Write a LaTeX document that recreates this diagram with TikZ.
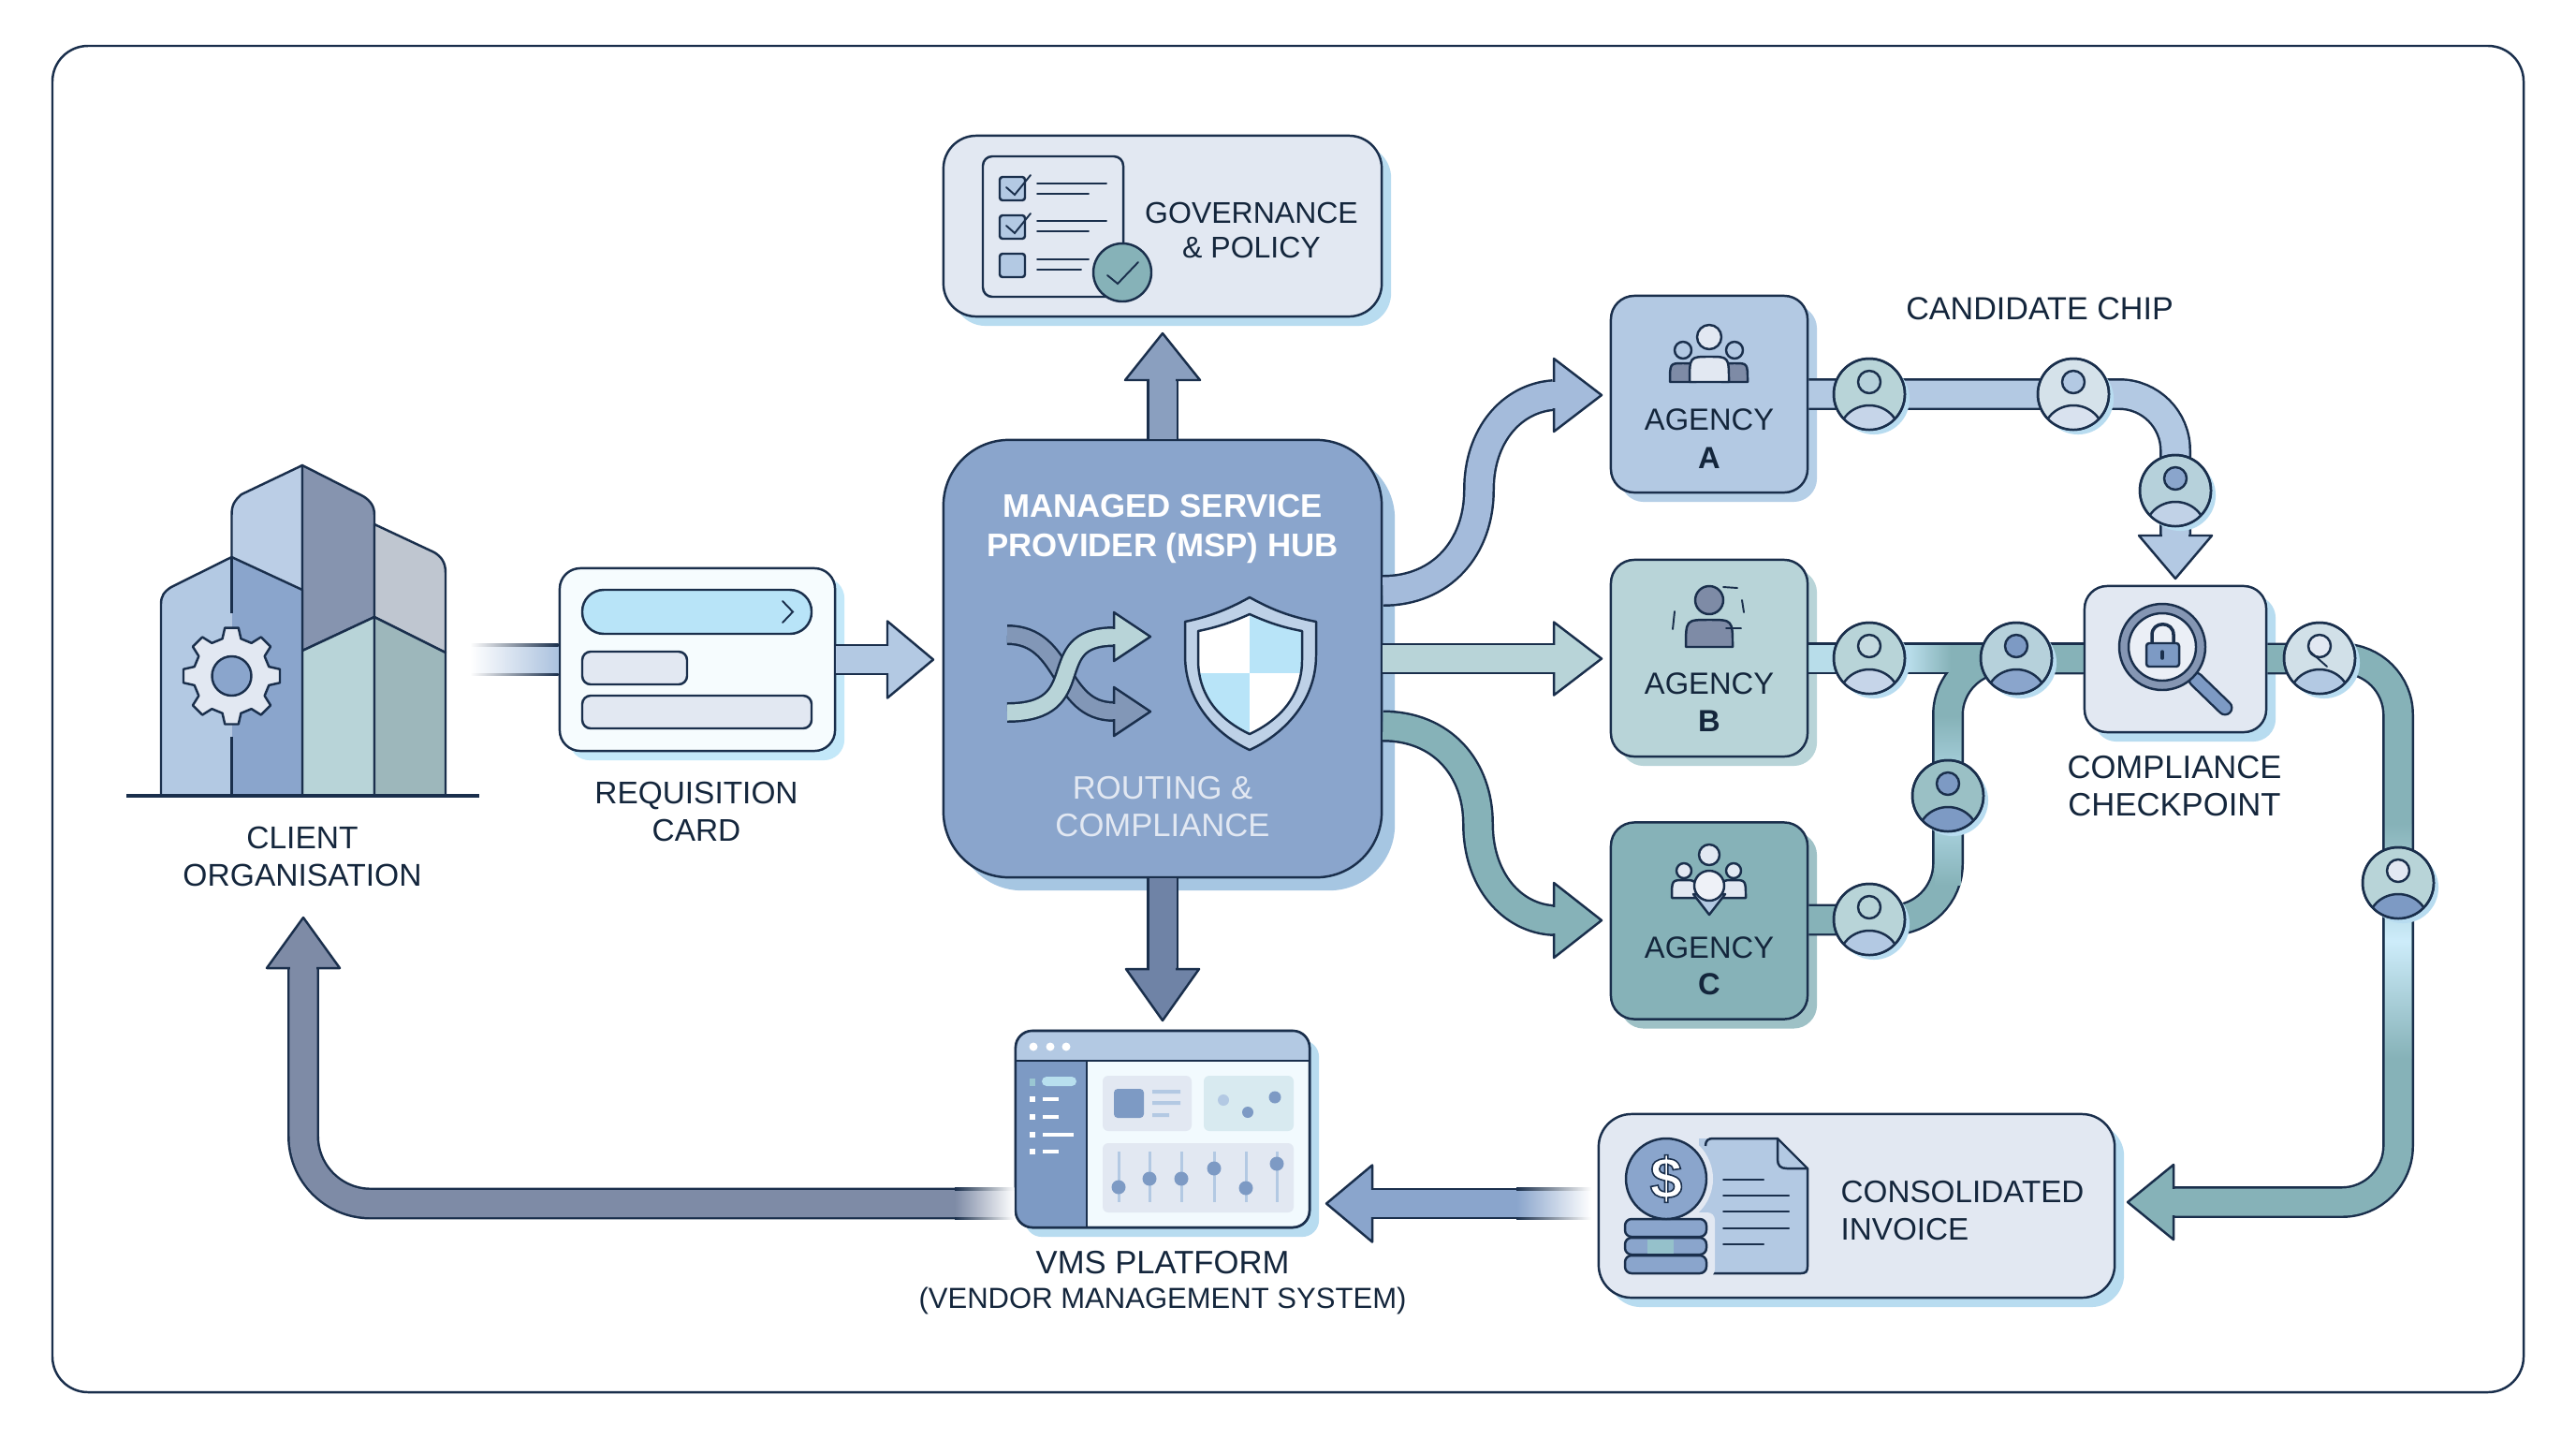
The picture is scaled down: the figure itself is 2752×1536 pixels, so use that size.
\documentclass[tikz,border=0pt]{standalone}
\usepackage{fontspec}
\setmainfont{Liberation Sans}
\usetikzlibrary{shadows}
\definecolor{navy}{HTML}{1A2F4C}
\definecolor{ink}{HTML}{14263C}
\definecolor{hubblue}{HTML}{8AA5CC}
\definecolor{midblue}{HTML}{7D9AC4}
\definecolor{softblue}{HTML}{B3C9E3}
\definecolor{arrowblue}{HTML}{A4BBDB}
\definecolor{pale}{HTML}{E2E8F2}
\definecolor{teal}{HTML}{86B2B8}
\definecolor{lteal}{HTML}{B8D4D8}
\definecolor{cyan}{HTML}{B8E4F8}
\definecolor{slate}{HTML}{8A9FBF}
\definecolor{dslate}{HTML}{6F83A6}
\definecolor{retslate}{HTML}{7E8BA6}
\definecolor{shade}{HTML}{B8DCF0}
\tikzset{
  ln/.style={draw=navy,line width=.7pt,line join=round},
  lnthin/.style={draw=navy,line width=.55pt,line cap=round},
  box/.style={ln,inner sep=0pt,rounded corners=#1},
  shadowed/.style={general shadow={fill=#1,shadow xshift=.1cm,shadow yshift=-.1cm}},
  chipnode/.style={ln,circle,inner sep=0pt,minimum size=.76cm,general shadow={fill=shade,shadow xshift=.05cm,shadow yshift=-.05cm}},
  band/.style={draw=navy,line width=.7pt,double=#1,double distance=.29cm,line join=round},
  lbl/.style={text=ink,align=center,inner sep=0pt},
}
\newcommand\fs[1]{\fontsize{#1}{11.4}\selectfont}
\newcommand\fsl[2]{\fontsize{#1}{#2}\selectfont}
% [inner half width] tip coordinate, rotation, colour, length, half width
\newcommand\ahead[6][14.2]{\begin{scope}[shift={(#2)},rotate=#3]
  \draw[ln,fill=#4] (0,0) -- (-#5,#6) -- (-#5,-#6) -- cycle;
  \fill[#4] ({-#5-2},-#1) rectangle ({-#5+2},#1);
\end{scope}}
% name,x,y,face,head,body
\newcommand\chip[6]{%
  \node[chipnode,fill=#4] (#1) at (#2,#3) {};
  \begin{scope}[shift={(#1.center)}]
    \begin{scope}
      \clip (0,0) circle[radius=37];
      \draw[ln,fill=#6] (0,42) ellipse[x radius=32,y radius=30];
    \end{scope}
    \draw[ln,fill=#5] (0,-13) circle[radius=12];
    \draw[ln] (0,0) circle[radius=38];
  \end{scope}}
% cx,top,bottom,half,fill
\newcommand\bust[5]{\draw[ln,fill=#5] ({#1-#4},#3) .. controls ({#1-#4},#2) and ({#1-#4},#2) .. (#1,#2) .. controls ({#1+#4},#2) and ({#1+#4},#2) .. ({#1+#4},#3) -- cycle;}
\begin{document}
\begin{tikzpicture}[x=0.01cm,y=-0.01cm]
\useasboundingbox (0,0) rectangle (2752,1536);
\fill[white] (0,0) rectangle (2752,1536);
\draw[ln,rounded corners=.38cm] (56,49) rectangle (2696,1487);

% ---------- building
\draw[ln,fill=softblue!90!white] (247.5,640) -- (247.5,550) .. controls (247.5,540) and (250,535) .. (258,528) -- (323,497) -- (323,650) -- cycle;
\draw[ln,fill=retslate!85!softblue] (323,497) -- (388,530) .. controls (396,535) and (400,541) .. (400,550) -- (400,659) -- (323,695) -- cycle;
\draw[ln,fill=softblue!55!gray!65!white] (400,560) -- (464,590) .. controls (472,595) and (476,601) .. (476,612) -- (476,697) -- (400,659) -- cycle;
\draw[ln,fill=lteal] (323,850) -- (323,695) -- (400,659) -- (400,850) -- cycle;
\draw[ln,fill=teal!75!gray!80!white] (400,659) -- (476,697) -- (476,850) -- (400,850) -- cycle;
\fill[softblue] (172,850) -- (172,645) .. controls (172,637) and (175,632) .. (183,627) -- (247.5,595) -- (247.5,850) -- cycle;
\fill[hubblue] (247.5,595) -- (323,630) -- (323,850) -- (247.5,850) -- cycle;
\draw[ln] (172,850) -- (172,645) .. controls (172,637) and (175,632) .. (183,627) -- (247.5,595) -- (323,630) -- (323,850);
\draw[ln] (247.5,595) -- (247.5,655) (247.5,787) -- (247.5,850);
\begin{scope}[shift={(247.5,722)}]
  \draw[ln,fill=pale] (-14:41) \foreach \a in {0,45,...,315}{ -- (\a-14:41) -- (\a-8:52) -- (\a+8:52) -- (\a+14:41) } -- cycle;
  \draw[ln,fill=hubblue] (0,0) circle[radius=21];
\end{scope}
\draw[navy,line width=.9pt] (135,850) -- (512,850);
\node[lbl,font=\fs{9.55}] (clientlbl) at (323,915) {CLIENT\\ORGANISATION};

% ---------- boxes
\node[box=.22cm,fill=cyan!12!white,shadowed=cyan!85!white,minimum width=2.94cm,minimum height=1.95cm] (req) at (745,704.5) {};
\draw[ln,fill=cyan,rounded corners=.23cm] (622,630) rectangle (867,677);
\draw[lnthin] (836,642) -- (847,653.5) -- (836,665);
\draw[ln,fill=pale,rounded corners=.09cm] (622,696) rectangle (734,731);
\draw[ln,fill=pale,rounded corners=.09cm] (622,743) rectangle (867,778);
\node[lbl,font=\fs{9.5}] (reqlbl) at (744,867) {REQUISITION\\CARD};

\node[box=.7cm,fill=hubblue,general shadow={fill=hubblue!40!shade,shadow xshift=.14cm,shadow yshift=-.14cm},minimum width=4.68cm,minimum height=4.67cm] (hub) at (1242,703.5) {};
\node[box=.35cm,fill=pale,shadowed=shade,minimum width=4.68cm,minimum height=1.93cm] (gov) at (1242,241.5) {};
\node[box=.25cm,fill=softblue,shadowed=softblue!70!shade,minimum width=2.1cm,minimum height=2.1cm] (agA) at (1826,421) {};
\node[box=.25cm,fill=lteal,shadowed=lteal,minimum width=2.1cm,minimum height=2.1cm] (agB) at (1826,703) {};
\node[box=.25cm,fill=teal,shadowed=teal!80!white,minimum width=2.1cm,minimum height=2.1cm] (agC) at (1826,983.5) {};
\node[box=.24cm,fill=pale,shadowed=shade,minimum width=1.94cm,minimum height=1.56cm] (chk) at (2324,704) {};
\node[box=.35cm,fill=pale,shadowed=shade,minimum width=5.51cm,minimum height=1.96cm] (inv) at (1983.5,1288) {};
\node[box=.18cm,fill=cyan!18!white,shadowed=shade,minimum width=3.14cm,minimum height=2.1cm] (vms) at (1242,1206) {};

% ---------- coordinates for connector ends
\coordinate (reqfade) at (502,704.5);
\coordinate (reqtip) at (997,704.5);
\coordinate (upbase) at (1242,406);
\coordinate (uptip) at (1242,356);
\coordinate (downbase) at (1242,1035);
\coordinate (downtip) at (1242,1090);
\coordinate (aport) at (1476,631);
\coordinate (abase) at (1660,422);
\coordinate (atip) at (1711,422);
\coordinate (bbase) at (1660,703.5);
\coordinate (btip) at (1711,703.5);
\coordinate (cport) at (1476,775.5);
\coordinate (cbase) at (1660,983);
\coordinate (ctip) at (1711,983);
\coordinate (acorner) at (2324,421);
\coordinate (chkbase) at (2324,572);
\coordinate (chktip) at (2324,618);
\coordinate (ccornerlow) at (2081,982.5);
\coordinate (ccornerup) at (2081,703.5);
\coordinate (ocorner1) at (2562,703.5);
\coordinate (ocorner2) at (2562,1284);
\coordinate (obase) at (2322,1284);
\coordinate (otip) at (2273,1284);
\coordinate (ivbase) at (1466,1285.5);
\coordinate (ivtip) at (1417,1285.5);
\coordinate (ivfade) at (1620,1285.5);
\coordinate (retfade) at (1020,1285.5);
\coordinate (retcorner) at (324,1285.5);
\coordinate (retbase) at (324,1034);
\coordinate (rettip) at (324,980);

% ---------- requisition arrows
\shade[left color=white,right color=softblue!80!hubblue] (reqfade |- 0,690) rectangle (req.west |- 0,719);
\shade[left color=white,right color=navy] (reqfade |- 0,687.5) rectangle (req.west |- 0,690);
\shade[left color=white,right color=navy] (reqfade |- 0,719) rectangle (req.west |- 0,721.5);
\draw[band=softblue] (req.east |- reqtip) -- (948,704.5);
\ahead{reqtip}{0}{softblue}{49}{41}

% ---------- hub spokes
\draw[band=slate] (hub.north) -- (upbase);
\ahead{uptip}{90}{slate}{50}{40}
\draw[band=dslate] (hub.south) -- (downbase);
\ahead{downtip}{270}{dslate}{55}{39}
\draw[band=arrowblue] (hub.east |- aport) .. controls (1540,631) and (1580,585) .. (1580,523) .. controls (1580,465) and (1615,425) .. (abase);
\ahead{atip}{0}{arrowblue}{51}{39}
\draw[band=lteal] (hub.east) -- (bbase);
\ahead{btip}{0}{lteal}{51}{39}
\draw[band=teal] (hub.east |- cport) .. controls (1540,775.5) and (1579,820) .. (1579,880) .. controls (1579,940) and (1615,981) .. (cbase);
\ahead{ctip}{0}{teal}{51}{40}

% ---------- candidate bands
\draw[band=softblue,rounded corners=.6cm] (agA.east |- acorner) -- (acorner) -- (chkbase);
\ahead{chktip}{270}{softblue}{46}{39}
\draw[band=teal] (agB.east) -- (chk.west |- agB.east);
\draw[band=teal,rounded corners=.6cm] (agC.east |- ccornerlow) -- (ccornerlow) -- (ccornerup) -- (chk.west |- ccornerup);
\fill[teal] (2055,689.2) rectangle (2128,717.8);
\fill[cyan!55!lteal] (1933,689.2) rectangle (2040,717.8);
\shade[left color=cyan!55!lteal,right color=teal] (2040,689.2) rectangle (2084,717.8);
\shade[top color=teal,bottom color=teal,middle color=cyan!70!lteal] (2067.5,765) rectangle (2094.5,945);
\draw[band=teal,rounded corners=.6cm] (chk.east |- ocorner1) -- (ocorner1) -- (ocorner2) -- (obase);
\ahead{otip}{180}{teal}{49}{40}
\shade[top color=teal,bottom color=teal,middle color=cyan!70!white] (2548,880) rectangle (2576,1130);

% ---------- invoice and return arrows
\draw[band=hubblue] (ivfade) -- (ivbase);
\ahead{ivtip}{180}{hubblue}{49}{41}
\shade[left color=hubblue,right color=white] (ivfade |- 0,1271) rectangle (1700,1300);
\shade[left color=navy,right color=white] (ivfade |- 0,1268.5) rectangle (1700,1271);
\shade[left color=navy,right color=white] (ivfade |- 0,1300) rectangle (1700,1302.5);
\draw[band=retslate,rounded corners=.72cm] (retfade) -- (retcorner) -- (retbase);
\ahead{rettip}{90}{retslate}{54}{39}
\shade[left color=retslate,right color=white] (retfade |- 0,1271) rectangle (vms.west |- 0,1300);
\shade[left color=navy,right color=white] (retfade |- 0,1268.5) rectangle (vms.west |- 0,1271);
\shade[left color=navy,right color=white] (retfade |- 0,1300) rectangle (vms.west |- 0,1302.5);

% ---------- governance icon
\draw[ln,fill=pale,rounded corners=.1cm] (1050,167) rectangle (1200,317);
\foreach \y in {189,230,271}{\draw[ln,fill=softblue,rounded corners=.03cm] (1068,\y) rectangle (1095,{\y+25});}
\draw[lnthin] (1075,200) -- (1084,208) -- (1101,187);
\draw[lnthin] (1075,241) -- (1084,249) -- (1101,228);
\draw[lnthin] (1108,196) -- (1182,196) (1108,207) -- (1163,207) (1108,236) -- (1182,236) (1108,247) -- (1163,247) (1108,277) -- (1163,277) (1108,288) -- (1155,288);
\draw[ln,fill=teal] (1199,291) circle[radius=31];
\draw[lnthin] (1183,294) -- (1194,303) -- (1216,280);
\node[lbl,font=\fsl{9.1}{10.5}] (govlbl) at (1337,246) {GOVERNANCE\\\& POLICY};

% ---------- hub content
\node[lbl,text=white,font=\bfseries\fsl{9.9}{12}] (hubtitle) at (1242,565) {MANAGED SERVICE\\PROVIDER (MSP) HUB};
\node[lbl,text=pale,font=\fs{9.85}] (hublbl) at (1242,862) {ROUTING \&\\COMPLIANCE};
\draw[band=slate!70!dslate,double distance=.17cm] (1076,678) .. controls (1140,678) and (1130,760) .. (1190,760);
\ahead[8.2]{1229,760}{0}{slate!70!dslate}{39}{26}
\draw[band=lteal,double distance=.17cm] (1076,761) .. controls (1170,761) and (1110,680) .. (1190,680);
\ahead[8.2]{1229,680}{0}{lteal}{39}{26}
\draw[ln,fill=softblue!85!white] (1335,638) .. controls (1310,652) and (1290,659) .. (1266,664) -- (1266,700) .. controls (1266,750) and (1300,785) .. (1335,801) .. controls (1370,785) and (1406,750) .. (1406,700) -- (1406,664) .. controls (1380,659) and (1360,652) .. (1335,638) -- cycle;
\begin{scope}
  \path[clip] (1335,656) .. controls (1315,665) and (1300,670) .. (1280,674) -- (1280,705) .. controls (1280,745) and (1305,770) .. (1335,784) .. controls (1365,770) and (1391,745) .. (1391,705) -- (1391,674) .. controls (1370,670) and (1355,665) .. (1335,656) -- cycle;
  \fill[white] (1270,650) rectangle (1400,790);
  \fill[cyan] (1335,650) rectangle (1400,719);
  \fill[cyan] (1270,719) rectangle (1335,790);
\end{scope}
\draw[ln] (1335,656) .. controls (1315,665) and (1300,670) .. (1280,674) -- (1280,705) .. controls (1280,745) and (1305,770) .. (1335,784) .. controls (1365,770) and (1391,745) .. (1391,705) -- (1391,674) .. controls (1370,670) and (1355,665) .. (1335,656) -- cycle;

% ---------- agency icons and labels
\bust{1798}{388}{408}{14}{retslate}
\bust{1853}{388}{408}{14}{retslate}
\draw[ln,fill=softblue] (1798,374) circle[radius=9];
\draw[ln,fill=softblue] (1853,374) circle[radius=9];
\draw[ln,fill=pale] (1826,360) circle[radius=13];
\bust{1826}{381}{408}{21}{pale}
\node[lbl,font=\fs{9.3}] (agAt) at (1826,448) {AGENCY};
\node[lbl,font=\bfseries\fs{9.3}] (agAl) at (1826,489) {A};
\draw[ln,fill=retslate] (1826,641) circle[radius=15];
\bust{1826}{662}{691}{25}{retslate}
\draw[lnthin] (1841,627) -- (1856,628) (1861,641) -- (1863,654) (1789,653) -- (1787,672) (1844,671) -- (1860,671);
\node[lbl,font=\fs{9.3}] (agBt) at (1826,730) {AGENCY};
\node[lbl,font=\bfseries\fs{9.3}] (agBl) at (1826,770) {B};
\draw[ln,fill=pale] (1799,930) circle[radius=8];
\draw[ln,fill=pale] (1852,930) circle[radius=8];
\bust{1799}{940}{959}{13}{pale}
\bust{1852}{940}{959}{13}{pale}
\draw[ln,fill=pale] (1826,913) circle[radius=11];
\draw[ln,fill=softblue] (1809,955) -- (1826,977) -- (1843,955) -- cycle;
\draw[ln,fill=pale!60!white] (1826,946) circle[radius=16];
\node[lbl,font=\fs{9.3}] (agCt) at (1826,1012) {AGENCY};
\node[lbl,font=\bfseries\fs{9.3}] (agCl) at (1826,1051) {C};
\node[lbl,font=\fs{9.7}] (chiplbl) at (2179,330) {CANDIDATE CHIP};

% ---------- checkpoint icon
\draw[band=midblue,double distance=.12cm,line cap=round] (2346,726) -- (2377,756);
\draw[ln,fill=dslate!85!white] (2310,691) circle[radius=46];
\draw[ln,fill=pale!70!white] (2310,691) circle[radius=36];
\draw[ln,line width=1pt] (2299,690) -- (2299,678) .. controls (2299,663) and (2322,663) .. (2322,678) -- (2322,690);
\draw[ln,fill=midblue,rounded corners=.03cm] (2293,687) rectangle (2328,712);
\draw[navy,line width=1pt,line cap=round] (2310,696) -- (2310,703);
\node[lbl,font=\fs{9.85}] (chklbl) at (2323,840) {COMPLIANCE\\CHECKPOINT};

% ---------- chips
\chip{chipA1}{1997}{421}{lteal}{lteal!70!softblue}{softblue!60!pale}
\chip{chipA2}{2215}{421}{pale!70!lteal}{softblue}{pale!80!softblue}
\chip{chipA3}{2324}{524}{lteal!70!softblue}{hubblue}{softblue!70!pale}
\chip{chipB1}{1997}{703}{lteal}{lteal!70!pale}{softblue!60!pale}
\chip{chipB2}{2154}{703}{lteal!70!softblue}{midblue}{hubblue}
\chip{chipCm}{2081}{850}{teal!60!lteal}{midblue}{midblue}
\chip{chipC1}{1997}{982}{lteal}{lteal}{softblue}
\chip{chipO1}{2478}{703}{pale!60!lteal}{pale}{softblue}
\draw[lnthin] (2468,696) -- (2486,712);
\chip{chipO2}{2562}{943}{lteal}{pale}{midblue}

% ---------- invoice icon
\fill[softblue] (1815,1216) -- (1899,1216) -- (1931,1248) -- (1931,1360) -- (1815,1360) -- cycle;
\draw[ln] (1830,1360) -- (1924,1360) .. controls (1929,1360) and (1931,1358) .. (1931,1353) -- (1931,1248) -- (1899,1216) -- (1830,1216) .. controls (1825,1216) and (1822,1218) .. (1822,1224);
\draw[ln] (1899,1216) -- (1899,1238) .. controls (1899,1245) and (1902,1248) .. (1909,1248) -- (1931,1248);
\draw[lnthin] (1841,1260) -- (1884,1260) (1841,1277) -- (1911,1277) (1841,1294) -- (1911,1294) (1841,1312) -- (1911,1312) (1841,1329) -- (1884,1329);
\fill[pale] (1780,1259) circle[radius=50];
\fill[pale,rounded corners=.08cm] (1728,1295) rectangle (1832,1364);
\draw[ln,fill=hubblue,rounded corners=.07cm] (1736,1302) rectangle (1823,1321);
\draw[ln,fill=hubblue,rounded corners=.07cm] (1736,1322) rectangle (1823,1340);
\draw[ln,fill=hubblue,rounded corners=.07cm] (1736,1341) rectangle (1823,1360);
\fill[teal!70!cyan] (1760,1323.5) rectangle (1788,1338.5);
\draw[ln,fill=hubblue] (1780,1259) circle[radius=43];
\node[lbl,text=white,font=\bfseries\fontsize{17.7}{20}\selectfont] (dollar) at (1780,1259) {\special{pdf:code q 2 Tr .45 w .102 .184 .298 RG}\$\special{pdf:code 0 Tr Q}};
\node[lbl,font=\fs{9.45},align=left,anchor=west] (invlbl) at (1966,1293) {CONSOLIDATED\\INVOICE};

% ---------- VMS window
\begin{scope}
  \clip[rounded corners=.18cm] (1085,1101) rectangle (1399,1311);
  \fill[softblue] (1085,1101) rectangle (1399,1133);
  \fill[midblue] (1085,1133) rectangle (1161,1311);
\end{scope}
\draw[ln] (1085,1133) -- (1399,1133) (1161,1133) -- (1161,1311);
\draw[ln,rounded corners=.18cm] (1085,1101) rectangle (1399,1311);
\foreach \x in {1104,1122,1139}{\fill[white] (\x,1118) circle[radius=4.5];}
\fill[teal!60!cyan] (1100,1152) rectangle (1106,1160);
\fill[cyan!70!lteal,rounded corners=.05cm] (1113,1150) rectangle (1150,1160);
\foreach \y/\e in {1174/1131,1193/1131,1212/1147,1230/1131}{\fill[white] (1100,{\y-3}) rectangle (1106,{\y+3}); \fill[white] (1114,{\y-2}) rectangle (\e,{\y+2});}
\fill[pale,rounded corners=.06cm] (1178,1149) rectangle (1273,1208);
\fill[cyan!35!lteal!55!white,rounded corners=.06cm] (1286,1149) rectangle (1382,1208);
\fill[pale,rounded corners=.06cm] (1178,1221) rectangle (1382,1295);
\fill[midblue,rounded corners=.04cm] (1190,1163) rectangle (1222,1194);
\fill[softblue] (1231,1164) rectangle (1261,1168) (1231,1176) rectangle (1261,1180) (1231,1189) rectangle (1249,1193);
\fill[softblue] (1307,1175) circle[radius=6];
\fill[midblue] (1362,1172) circle[radius=6.5];
\fill[midblue] (1333,1188) circle[radius=6];
\foreach \x/\k in {1195/1268,1228/1259,1262/1259,1297/1248,1331/1269,1364/1243}{
  \fill[softblue] ({\x-1.5},1230) rectangle ({\x+1.5},1284);
  \fill[midblue] (\x,\k) circle[radius=7.5];}
\node[lbl,font=\fs{9.85}] (vmslbl) at (1242,1349) {VMS PLATFORM};
\node[lbl,font=\fs{8.83}] (vmssub) at (1242,1389) {(VENDOR MANAGEMENT SYSTEM)};
\end{tikzpicture}
\end{document}
